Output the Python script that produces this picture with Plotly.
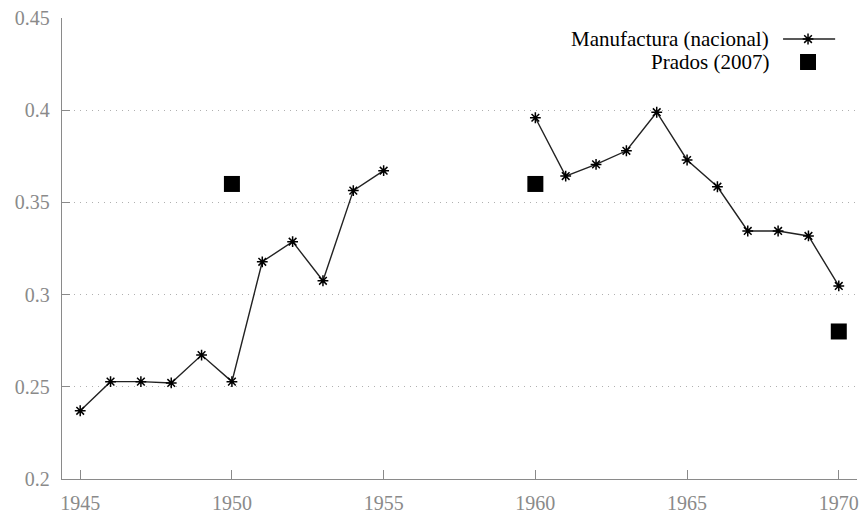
import plotly.graph_objects as go

years = list(range(1945, 1971))
manufactura = [0.237, 0.2528, 0.2528, 0.2521, 0.2672, 0.2528, 0.3178, 0.3287, 0.3075, 0.3564, 0.3672,
               None, None, None, None,
               0.3959, 0.3643, 0.3706, 0.378, 0.3989, 0.373, 0.3585, 0.3345, 0.3345, 0.3318, 0.3047]
prados_years = [1950, 1960, 1970]
prados = [0.36, 0.36, 0.28]

y_ticks = [0.2, 0.25, 0.3, 0.35, 0.4, 0.45]
y_labels = ["0.2", "0.25", "0.3", "0.35", "0.4", "0.45"]
x_ticks = [1945, 1950, 1955, 1960, 1965, 1970]
x_labels = ["1945", "1950", "1955", "1960", "1965", "1970"]
series_names = ["Manufactura (nacional)", "Prados (2007)"]

FONT = "Liberation Serif"
AXIS = "#8a8a8a"
LINE = "#222222"

star = dict(symbol="asterisk-open", size=9, color="#000000", line=dict(color="#000000", width=1.5))
square = dict(symbol="square", size=16, color="#000000")

fig = go.Figure()
fig.add_trace(go.Scatter(
    x=years, y=manufactura, mode="lines+markers", connectgaps=False,
    line=dict(color=LINE, width=1.4), marker=star,
    showlegend=False, name=series_names[0]))
fig.add_trace(go.Scatter(
    x=prados_years, y=prados, mode="markers", marker=square,
    showlegend=False, name=series_names[1]))

# custom legend (symbols to the right of right-aligned text, gnuplot style)
fig.add_trace(go.Scatter(
    x=[0.907, 0.9725], y=[0.9544, 0.9544], xaxis="x2", yaxis="y2", mode="lines",
    line=dict(color=LINE, width=1.4), showlegend=False, hoverinfo="skip"))
fig.add_trace(go.Scatter(
    x=[0.9384], y=[0.9544], xaxis="x2", yaxis="y2", mode="markers", marker=star,
    showlegend=False, hoverinfo="skip"))
fig.add_trace(go.Scatter(
    x=[0.9384], y=[0.9046], xaxis="x2", yaxis="y2", mode="markers", marker=square,
    showlegend=False, hoverinfo="skip"))

for name, yy in zip(series_names, [0.9544, 0.9046]):
    fig.add_annotation(x=0.8918, y=yy, xref="paper", yref="paper", text=name,
                       showarrow=False, xanchor="right", yanchor="middle",
                       font=dict(family=FONT, size=21, color="#000000"))

fig.update_layout(
    width=863, height=514,
    margin=dict(l=62, r=6, t=18, b=35, autoexpand=False),
    paper_bgcolor="white", plot_bgcolor="white",
    font=dict(family=FONT, size=20, color=AXIS),
    xaxis=dict(range=[1944.4, 1970.6], tickvals=x_ticks, ticktext=x_labels,
               showgrid=False, zeroline=False, showline=True, linecolor=AXIS, linewidth=1.3,
               ticks="inside", ticklen=9, tickcolor=AXIS, tickwidth=1.3, automargin=False,
               ticklabelstandoff=6, ticklabeloverflow="allow",
               tickfont=dict(family=FONT, size=20, color=AXIS)),
    yaxis=dict(range=[0.2, 0.45], tickvals=y_ticks, ticktext=y_labels,
               showgrid=True, gridcolor="#b0b0b0", griddash="1px,5px", gridwidth=1,
               zeroline=False, showline=True, linecolor=AXIS, linewidth=1.3,
               ticks="inside", ticklen=8, tickcolor=AXIS, tickwidth=1.3, automargin=False,
               ticklabelstandoff=7, ticklabeloverflow="allow",
               tickfont=dict(family=FONT, size=20, color=AXIS)),
    xaxis2=dict(range=[0, 1], overlaying="x", visible=False, fixedrange=True),
    yaxis2=dict(range=[0, 1], overlaying="y", visible=False, fixedrange=True),
    showlegend=False,
)

# remove the browser's default 8px body margin so the 863x514 figure fills the window
fig.write_html("out.html", config={"displayModeBar": False},
               post_script="document.body.style.margin='0';document.body.style.overflow='hidden';")
